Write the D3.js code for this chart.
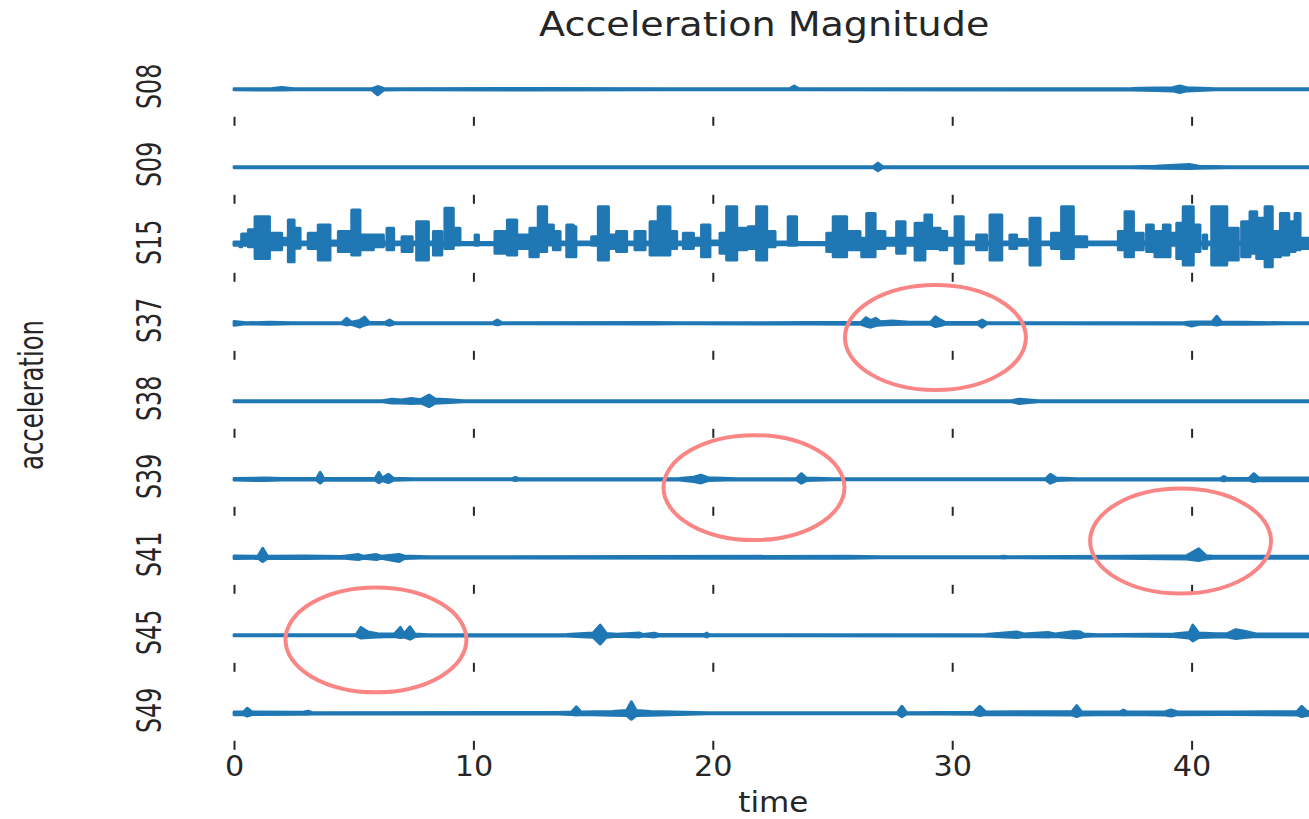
<!DOCTYPE html>
<html><head><meta charset="utf-8">
<script src="https://cdn.jsdelivr.net/npm/d3@7"></script>
<style>body{margin:0;background:#fff;overflow:hidden}</style>
</head><body>
<svg id="chart" width="1309" height="819"></svg>
<script>
// ---------- data ----------
const seriesNames = ["S08","S09","S15","S37","S38","S39","S41","S45","S49"];
const timeTicks = [0, 10, 20, 30, 40];
// each entry: [time (s), upper envelope, lower envelope] of the trace
const s08 = [[0,1.02,0.98],[1.6,1.03,0.97],[2.0,1.07,0.97],[2.5,1.02,0.98],[5.75,1.02,0.98],[6.0,1.10,0.80],[6.25,1.03,0.97],[7.0,1.02,0.98],[12.5,1.03,0.97],[18.0,1.02,0.98],[23.2,1.02,0.98],[23.4,1.12,0.98],[23.6,1.02,0.98],[37.5,1.03,0.97],[38.5,1.05,0.95],[39.2,1.06,0.94],[39.5,1.12,0.88],[39.8,1.06,0.94],[41.0,1.02,0.98],[45,1.02,0.98]];
const s09 = [[0,1.02,0.98],[26.7,1.02,0.98],[26.9,1.15,0.88],[27.1,1.02,0.98],[37.5,1.02,0.98],[38.5,1.04,0.96],[39.9,1.10,0.95],[40.3,1.04,0.96],[41.5,1.02,0.98],[45,1.02,0.98]];
const s15 = [[0.00,1.12,1.00],[0.25,1.10,0.95],[0.32,1.40,1.00],[0.60,1.55,0.95],[0.88,2.00,0.54],[1.48,1.42,0.84],[1.99,1.25,1.02],[2.27,1.89,0.42],[2.51,1.60,0.90],[2.76,1.12,1.02],[3.10,1.42,0.89],[3.52,1.71,0.48],[4.01,1.15,1.00],[4.36,1.48,0.78],[4.92,2.24,0.66],[5.26,1.36,0.84],[5.82,1.36,0.95],[6.24,1.12,1.02],[6.39,1.60,0.84],[6.67,1.12,1.02],[7.02,1.30,0.78],[7.44,1.12,1.02],[7.63,1.83,0.48],[8.12,1.12,1.02],[8.33,1.48,0.66],[8.68,1.12,1.02],[8.81,2.30,0.89],[9.16,1.60,1.01],[9.44,1.10,1.02],[10.07,1.36,1.00],[10.21,1.10,1.02],[10.90,1.48,0.72],[11.42,1.89,0.66],[11.81,1.36,0.89],[12.36,1.60,0.60],[12.71,2.35,0.78],[13.06,1.71,1.01],[13.34,1.48,0.84],[13.62,1.12,1.02],[13.90,1.71,0.60],[14.17,1.65,0.60],[14.28,1.12,1.02],[14.94,1.30,1.00],[15.15,1.12,1.02],[15.22,2.35,0.48],[15.64,1.36,0.89],[15.98,1.48,0.78],[16.40,1.12,1.02],[16.75,1.48,0.84],[17.17,1.12,1.02],[17.38,1.83,0.66],[17.72,2.35,0.66],[18.21,1.48,0.89],[18.49,1.12,1.02],[18.77,1.42,0.89],[19.19,1.25,1.00],[19.53,1.71,0.60],[19.88,1.15,1.02],[20.30,1.42,0.72],[20.58,2.35,0.48],[21.00,1.60,0.84],[21.42,1.12,1.02],[21.48,1.65,0.89],[21.76,1.12,1.02],[21.83,2.35,0.48],[22.25,1.48,0.95],[22.60,1.12,1.02],[23.15,2.00,1.00],[23.50,1.10,1.02],[24.76,1.42,0.78],[25.03,2.00,0.60],[25.59,1.48,0.84],[26.15,1.12,1.02],[26.22,1.25,0.60],[26.43,2.12,0.60],[26.78,1.48,0.89],[27.19,1.25,1.00],[27.61,1.12,1.02],[27.68,1.83,0.72],[28.03,1.12,1.02],[28.10,1.25,1.00],[28.38,1.12,1.02],[28.45,1.77,0.48],[28.86,2.06,0.89],[29.14,1.60,0.89],[29.49,1.48,0.84],[29.77,1.12,1.02],[29.84,1.25,1.00],[30.05,1.12,1.02],[30.12,2.00,0.37],[30.46,1.12,1.02],[31.02,1.36,0.84],[31.44,1.12,1.02],[31.58,2.06,0.48],[32.07,1.12,1.02],[32.41,1.36,0.89],[32.69,1.20,1.00],[33.11,1.12,1.02],[33.25,1.95,0.31],[33.67,1.12,1.02],[34.15,1.42,0.89],[34.50,1.12,1.02],[34.57,2.35,0.54],[35.06,1.30,0.95],[35.62,1.12,1.02],[36.94,1.48,0.84],[37.22,2.18,0.60],[37.57,1.42,0.84],[37.98,1.12,1.02],[38.12,1.71,0.78],[38.40,1.12,1.02],[38.47,1.48,0.60],[38.82,1.71,0.60],[39.10,1.42,1.00],[39.38,1.77,0.54],[39.65,2.35,0.31],[40.07,1.71,0.78],[40.35,1.12,1.02],[40.49,1.36,0.89],[40.63,1.12,1.02],[40.84,2.35,0.31],[41.47,1.60,0.48],[41.95,1.12,1.02],[42.09,1.83,0.60],[42.44,2.18,0.72],[42.72,1.95,0.54],[43.00,1.12,1.02],[43.07,2.35,0.25],[43.37,1.48,0.60],[43.71,2.12,0.66],[44.06,1.12,1.02],[44.11,1.83,0.78],[44.32,2.12,0.84],[44.53,1.25,0.89],[45.00,1.25,0.89]];
const s37 = [[0,1.07,0.93],[0.5,1.02,0.98],[1.5,1.04,0.96],[2.4,1.02,0.98],[4.5,1.02,0.98],[4.7,1.18,0.94],[4.9,1.04,0.96],[5.25,1.10,0.86],[5.45,1.22,0.94],[5.65,1.03,0.97],[6.3,1.03,0.97],[6.5,1.12,0.93],[6.7,1.02,0.98],[10.8,1.02,0.98],[11.0,1.12,0.94],[11.2,1.02,0.98],[17.4,1.03,0.97],[18.6,1.02,0.98],[24.0,1.03,0.97],[26.2,1.04,0.96],[26.4,1.20,0.90],[26.6,1.10,0.86],[26.8,1.18,0.92],[27.0,1.06,0.94],[27.5,1.08,0.95],[28.2,1.04,0.96],[29.1,1.04,0.96],[29.3,1.23,0.88],[29.5,1.12,0.92],[29.7,1.04,0.96],[31.05,1.03,0.97],[31.25,1.12,0.86],[31.45,1.02,0.98],[39.7,1.03,0.97],[40.0,1.05,0.90],[40.3,1.05,0.96],[40.85,1.05,0.96],[41.05,1.25,0.94],[41.25,1.04,0.96],[42.2,1.04,0.96],[43.9,1.02,0.98],[45,1.02,0.98]];
const s38 = [[0,1.02,0.98],[6.2,1.02,0.98],[6.6,1.08,0.94],[7.0,1.05,0.94],[7.4,1.10,0.92],[7.8,1.06,0.94],[8.15,1.22,0.81],[8.4,1.08,0.93],[9.0,1.06,0.95],[9.6,1.02,0.98],[32.5,1.02,0.98],[32.8,1.08,0.92],[33.2,1.05,0.95],[33.6,1.02,0.98],[45,1.02,0.98]];
const s39 = [[0,1.03,0.97],[1.3,1.05,0.95],[2.0,1.03,0.97],[3.45,1.03,0.97],[3.6,1.25,0.86],[3.75,1.03,0.97],[5.9,1.04,0.96],[6.05,1.25,0.88],[6.2,1.05,0.95],[6.45,1.18,0.88],[6.65,1.04,0.96],[7.5,1.02,0.98],[11.6,1.02,0.98],[11.75,1.07,0.95],[11.9,1.02,0.98],[18.6,1.03,0.97],[19.2,1.08,0.92],[19.5,1.15,0.87],[19.8,1.06,0.95],[21.0,1.02,0.98],[23.5,1.03,0.97],[23.7,1.20,0.86],[23.9,1.05,0.95],[25.0,1.02,0.98],[33.9,1.02,0.98],[34.1,1.18,0.86],[34.35,1.05,0.95],[35.2,1.02,0.98],[41.2,1.03,0.97],[41.35,1.10,0.94],[41.5,1.03,0.97],[42.4,1.04,0.96],[42.6,1.20,0.92],[42.8,1.05,0.95],[45,1.05,0.95]];
const s41 = [[0,1.05,0.95],[1.0,1.04,0.96],[1.2,1.32,0.85],[1.4,1.04,0.96],[3.0,1.05,0.95],[4.5,1.03,0.97],[5.2,1.10,0.92],[5.4,1.04,0.96],[5.95,1.10,0.92],[6.15,1.04,0.96],[6.9,1.10,0.85],[7.1,1.05,0.95],[8.1,1.02,0.98],[25.6,1.04,0.96],[27.0,1.02,0.98],[32.0,1.02,0.98],[32.15,1.04,0.97],[32.3,1.02,0.98],[37.1,1.04,0.96],[39.8,1.06,0.94],[40.3,1.30,0.88],[40.6,1.06,0.94],[40.9,1.04,0.96],[45,1.04,0.96]];
const s45 = [[0,1.02,0.98],[5.1,1.02,0.98],[5.3,1.28,0.90],[5.6,1.12,0.92],[6.0,1.06,0.94],[6.7,1.05,0.95],[6.95,1.28,0.92],[7.1,1.06,0.94],[7.35,1.30,0.86],[7.55,1.05,0.95],[8.1,1.02,0.98],[13.9,1.03,0.97],[15.0,1.08,0.93],[15.3,1.36,0.69],[15.55,1.07,0.93],[16.0,1.04,0.96],[16.95,1.08,0.94],[17.1,1.03,0.97],[17.55,1.08,0.94],[17.75,1.03,0.97],[19.65,1.03,0.97],[19.75,1.08,0.94],[19.85,1.02,0.98],[31.4,1.03,0.97],[32.7,1.12,0.92],[33.0,1.05,0.95],[34.0,1.10,0.94],[34.3,1.05,0.95],[35.1,1.14,0.90],[35.35,1.12,0.92],[35.5,1.05,0.95],[36.1,1.02,0.98],[39.25,1.05,0.95],[39.9,1.10,0.90],[40.05,1.36,0.80],[40.3,1.08,0.92],[41.0,1.06,0.94],[41.5,1.06,0.94],[41.85,1.20,0.88],[42.2,1.15,0.92],[42.7,1.05,0.95],[45,1.05,0.95]];
const s49 = [[0,1.05,0.95],[0.4,1.05,0.95],[0.55,1.18,0.90],[0.75,1.05,0.95],[2.9,1.04,0.96],[3.1,1.08,0.96],[3.3,1.02,0.98],[13.5,1.03,0.97],[14.1,1.05,0.95],[14.3,1.23,0.94],[14.5,1.05,0.95],[15.8,1.07,0.93],[16.4,1.10,0.92],[16.6,1.41,0.79],[16.8,1.10,0.92],[17.4,1.07,0.93],[19.8,1.02,0.98],[27.7,1.02,0.98],[27.9,1.25,0.88],[28.1,1.02,0.98],[30.9,1.04,0.96],[31.15,1.25,0.92],[31.4,1.05,0.95],[35.0,1.06,0.94],[35.2,1.27,0.88],[35.4,1.06,0.94],[37.0,1.05,0.95],[37.15,1.12,0.94],[37.3,1.05,0.95],[38.9,1.06,0.94],[39.15,1.12,0.90],[39.4,1.05,0.95],[41.5,1.05,0.95],[44.4,1.06,0.94],[44.6,1.25,0.88],[44.8,1.08,0.92],[45,1.06,0.94]];
const seriesValues = [s08, s09, s15, s37, s38, s39, s41, s45, s49];

// highlighted regions (red rings): row, centre time, centre level
const ringRows = ["S37", "S39", "S41", "S45"];
const ringTimes = [29.30, 21.72, 39.54, 5.93];
const ringLevels = [0.50, 0.71, 1.57, 0.84];
const ringHalfTime = 3.78;   // half-width in seconds
const ringHalfLevel = 1.84;  // half-height in acceleration units

// ---------- layout ----------
const svg = d3.select("#chart");
const pxPerSec = 23.94;
const x = d3.scaleLinear().domain([0, 45]).range([234, 234 + 45 * pxPerSec]);
const rowBottom = d3.scalePoint().domain(seriesNames).range([117.8, 117.8 + 78 * 8]);
const unitPx = 28.5;
const yFor = name => d3.scaleLinear().domain([0, 2.6]).range([rowBottom(name), rowBottom(name) - 2.6 * unitPx]);

const blue = "#1f77b4", ink = "#262626";
const font = "'DejaVu Sans', sans-serif";

// title
svg.append("text")
  .attr("transform", "translate(764.2,36) scale(1.14,1)")
  .attr("text-anchor", "middle").attr("font-family", font).attr("font-size", 33.4)
  .attr("fill", ink).text("Acceleration Magnitude");

// rows
seriesNames.forEach((name, i) => {
  const y = yFor(name);
  const last = i === seriesNames.length - 1;
  const ax = svg.append("g")
    .attr("transform", `translate(0,${rowBottom(name) - 1})`)
    .call(d3.axisBottom(x).tickValues(timeTicks).tickSize(9).tickPadding(6)
      .tickFormat(last ? d3.format("d") : () => ""));
  ax.select(".domain").remove();
  ax.selectAll(".tick line").attr("stroke", ink).attr("stroke-width", 2);
  ax.selectAll(".tick text").attr("fill", ink).attr("font-family", font)
    .attr("font-size", 28).attr("transform", "scale(1.08,1)");

  // dense bursts of S15 render as blocks; the quiet traces as a thin wavering line
  const area = d3.area()
    .x(d => x(d[0])).y0(d => y(d[2])).y1(d => y(d[1]))
    .curve(name === "S15" ? d3.curveStepAfter : d3.curveLinear);
  svg.append("path").datum(seriesValues[i]).attr("d", area)
    .attr("fill", blue).attr("stroke", blue)
    .attr("stroke-width", name === "S15" ? 3 : 2.8)
    .attr("stroke-linejoin", "round");

  svg.append("text")
    .attr("transform", `translate(160.7,${y(1) - 3}) rotate(-90) scale(0.70,1)`)
    .attr("text-anchor", "middle").attr("font-family", font).attr("font-size", 34)
    .attr("fill", ink).text(name);
});

// axis titles
svg.append("text")
  .attr("transform", "translate(773.3,812) scale(1.13,1)")
  .attr("text-anchor", "middle").attr("font-family", font).attr("font-size", 27.5)
  .attr("fill", ink).text("time");
svg.append("text")
  .attr("transform", "translate(43,395) rotate(-90) scale(0.706,1)")
  .attr("text-anchor", "middle").attr("font-family", font).attr("font-size", 34.5)
  .attr("fill", ink).text("acceleration");

// red rings
ringRows.forEach((row, k) => {
  const y = yFor(row);
  svg.append("ellipse")
    .attr("cx", x(ringTimes[k])).attr("cy", y(ringLevels[k]))
    .attr("rx", x(ringHalfTime) - x(0)).attr("ry", y(0) - y(ringHalfLevel))
    .attr("fill", "none").attr("stroke", "#fa8585").attr("stroke-width", 4);
});
</script>
</body></html>
